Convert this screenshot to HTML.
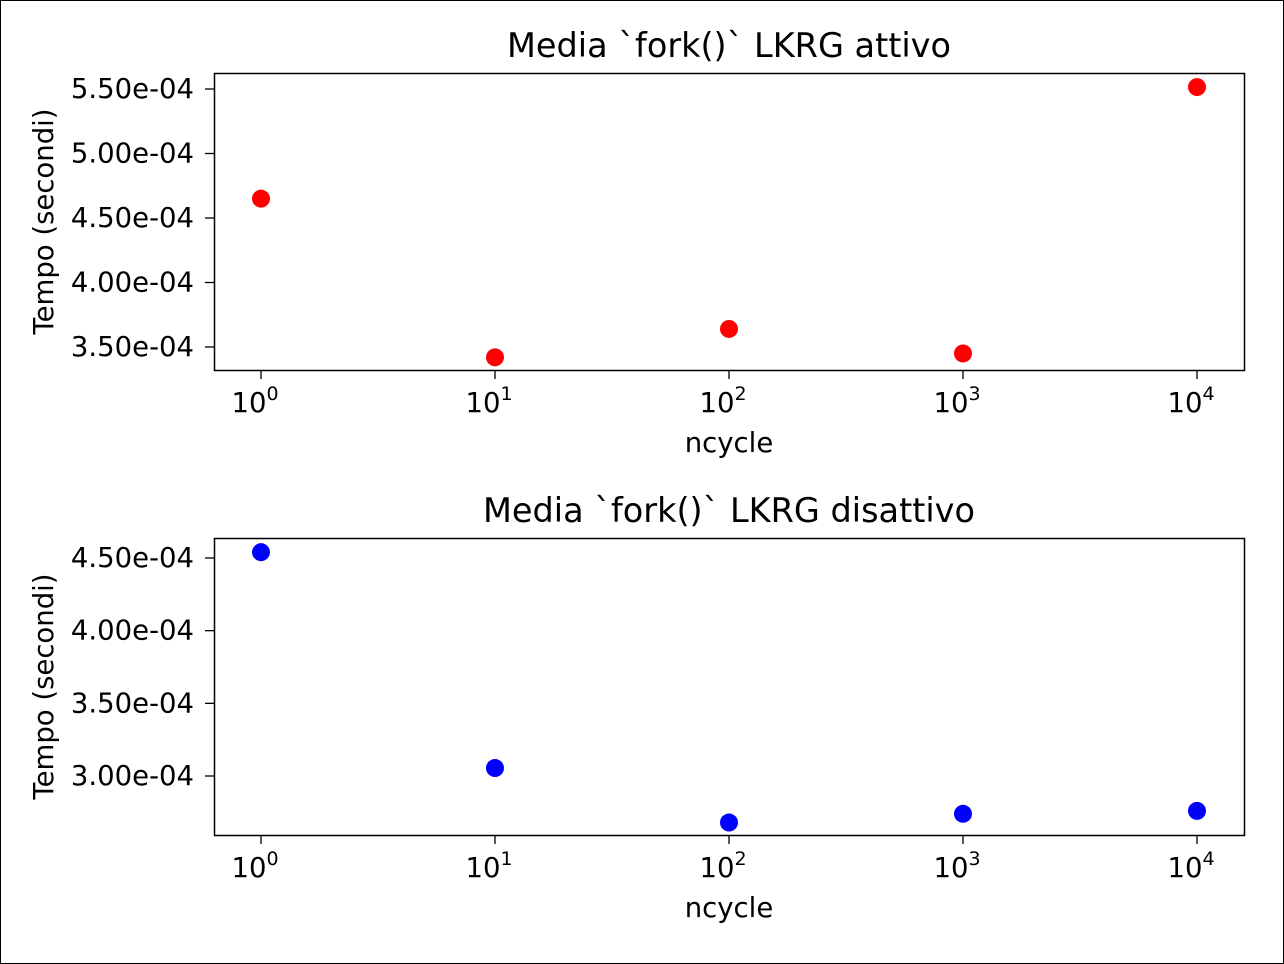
<!DOCTYPE html>
<html><head><meta charset="utf-8"><style>
html,body{margin:0;padding:0;background:#fff}
svg{display:block}
text{font-family:"DejaVu Sans","Liberation Sans",sans-serif;fill:#000}
</style></head><body>
<svg id="c" width="1284" height="964">
<rect x="0.5" y="0.5" width="1283" height="963" fill="#fff" stroke="#000"/>
</svg>
<script>
const xCats=[1,10,100,1000,10000];
const topVals=[4.65e-4,3.42e-4,3.64e-4,3.45e-4,5.515e-4];
const botVals=[4.54e-4,3.055e-4,2.68e-4,2.74e-4,2.76e-4];
const topTicks=[3.5e-4,4.0e-4,4.5e-4,5.0e-4,5.5e-4];
const botTicks=[3.0e-4,3.5e-4,4.0e-4,4.5e-4];
const xTickExp=[0,1,2,3,4];
const svg=document.getElementById('c');
const NS='http://www.w3.org/2000/svg';
function mk(t,a,p){const e=document.createElementNS(NS,t);for(const k in a)e.setAttribute(k,a[k]);(p||svg).appendChild(e);return e;}
function xs(v){return 261+234*Math.log10(v);}
function panel(cfg){
 const g=mk('g',{});
 
 
 const ys=v=>cfg.y0+(v-cfg.v0)*(cfg.y1-cfg.y0)/(cfg.v1-cfg.v0);
 const t=mk('text',{x:729,y:cfg.top-16,'text-anchor':'middle','font-size':'33.5'},g);t.textContent=cfg.title;
 
 cfg.ticks.forEach(v=>{const y=ys(v);
  mk('line',{x1:205,x2:214,y1:y,y2:y,stroke:'#000','stroke-width':1.3},g);
  const l=mk('text',{x:194,y:y+9,'text-anchor':'end','font-size':'27.5'},g);l.textContent=v.toExponential(2).replace(/e-(\d)$/,'e-0$1');
  });
 xTickExp.forEach(e=>{const x=xs(Math.pow(10,e));
  mk('line',{x1:x,x2:x,y1:cfg.bot,y2:cfg.bot+9,stroke:'#000','stroke-width':1.3},g);
  const l=mk('text',{x:x-6,y:cfg.bot+42,'text-anchor':'middle','font-size':'27.5'},g);
  l.textContent='10';const s=mk('tspan',{dy:-12,'font-size':'19'},l);s.textContent=e;
  });
 const xl=mk('text',{x:729,y:cfg.bot+82,'text-anchor':'middle','font-size':'27.5'},g);xl.textContent='ncycle';
 
 const cy=(cfg.top+cfg.bot)/2;
 const yl=mk('text',{x:53,y:cy,'text-anchor':'middle','font-size':'27.5',transform:`rotate(-90 53 ${cy})`},g);yl.textContent='Tempo (secondi)';
 
 cfg.vals.forEach((v,i)=>{const c=mk('circle',{cx:xs(xCats[i]),cy:ys(v),r:9,fill:cfg.color},g);
  });
 const r=mk('rect',{x:214.5,y:cfg.top+0.5,width:1030,height:cfg.bot-cfg.top,fill:'none',stroke:'#000','stroke-width':1.5},g);
 
}
panel({name:'top-chart',title:'Media `fork()` LKRG attivo',top:73,bot:370,v0:3.5e-4,y0:347,v1:5.5e-4,y1:89,ticks:topTicks,vals:topVals,color:'#ff0000'});
panel({name:'bottom-chart',title:'Media `fork()` LKRG disattivo',top:538,bot:835,v0:3.0e-4,y0:776,v1:4.5e-4,y1:558,ticks:botTicks,vals:botVals,color:'#0000ff'});
</script>
</body></html>
